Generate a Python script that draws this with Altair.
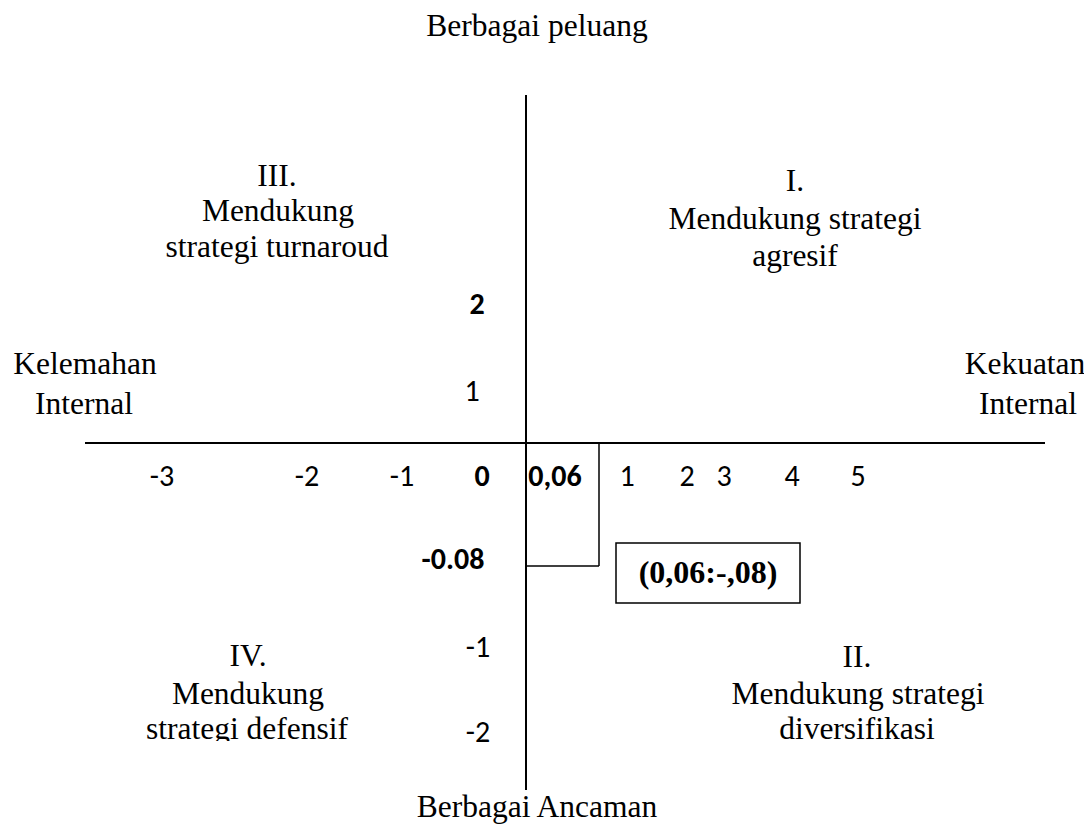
import altair as alt
import pandas as pd

# ---- values ----
# plotted point (IFE score ; EFE score)
point_label = "(0,06:-,08)"

# horizontal axis labels (irregularly spaced, as drawn)
x_tick_labels = ["-3", "-2", "-1", "0", "0,06", "1", "2", "3", "4", "5"]
x_tick_bold = [False, False, False, True, True, False, False, False, False, False]
x_tick_pos = [-364, -219, -124, -44, 29, 101, 161, 198, 266, 332]

# vertical axis labels
y_tick_labels = ["2", "1", "-0.08", "-1", "-2"]
y_tick_bold = [True, False, True, False, False]
y_tick_pos = [138, 51, -117, -205, -290]
y_tick_x = [-49, -54, -73, -48, -48]

# quadrant / axis captions
caption_lines = [
    "Berbagai peluang", "Berbagai Ancaman",
    "Kelemahan", "Internal", "Kekuatan", "Internal",
    "III.", "Mendukung", "strategi turnaroud",
    "I.", "Mendukung strategi", "agresif",
    "II.", "Mendukung strategi", "diversifikasi",
    "IV.", "Mendukung", "strategi defensif",
]
caption_x = [11, 11, -441, -442, 499, 502,
             -249, -248, -249, 269, 269, 269,
             331, 332, 331, -278, -278, -279]
caption_y = [416, -365, 78, 38, 78, 38,
             266, 231, 195, 261, 223, 186,
             -215, -252, -287, -214, -252, -287]

# axis segments and marker (x, y, x2, y2)
axis_seg = pd.DataFrame({
    "x": [0, -441], "y": [348, 0], "x2": [0, 519], "y2": [-347, 0]
})
marker_seg = pd.DataFrame({
    "x": [73, 0], "y": [0, -123], "x2": [73, 73], "y2": [-123, -123]
})
box = pd.DataFrame({"x": [90], "x2": [274], "y": [-100], "y2": [-160],
                    "tx": [182], "ty": [-130], "label": [point_label]})
# the bottom of the quadrant IV caption is cut off in the original
mask = pd.DataFrame({"x": [-400], "x2": [-160], "y": [-298], "y2": [-312]})

W, H = 1076, 818
xs = alt.Scale(domain=[-518, 558], nice=False, zero=False)
ys = alt.Scale(domain=[-383, 435], nice=False, zero=False)
X = lambda f: alt.X(f, scale=xs, axis=None)
Y = lambda f: alt.Y(f, scale=ys, axis=None)

SERIF = "Liberation Serif, Times New Roman, serif"
SANS = "Carlito, Lato, sans-serif"

axes = alt.Chart(axis_seg).mark_rule(color="black", strokeWidth=2).encode(
    x=X("x:Q"), y=Y("y:Q"), x2="x2:Q", y2="y2:Q")
marker = alt.Chart(marker_seg).mark_rule(color="black", strokeWidth=1.5).encode(
    x=X("x:Q"), y=Y("y:Q"), x2="x2:Q", y2="y2:Q")
boxrect = alt.Chart(box).mark_rect(fill="white", stroke="black", strokeWidth=1.5).encode(
    x=X("x:Q"), y=Y("y:Q"), x2="x2:Q", y2="y2:Q")
boxtext = alt.Chart(box).mark_text(font=SERIF, fontSize=32, fontWeight="bold",
                                   align="center", baseline="middle", color="black").encode(
    x=X("tx:Q"), y=Y("ty:Q"), text="label:N")

cap_df = pd.DataFrame({"t": caption_lines, "x": caption_x, "y": caption_y})
captions = alt.Chart(cap_df).mark_text(font=SERIF, fontSize=31.5, align="center",
                                       baseline="middle", color="black").encode(
    x=X("x:Q"), y=Y("y:Q"), text="t:N")
maskrect = alt.Chart(mask).mark_rect(fill="white").encode(
    x=X("x:Q"), y=Y("y:Q"), x2="x2:Q", y2="y2:Q")

tick_df = pd.DataFrame({
    "t": x_tick_labels + y_tick_labels,
    "x": x_tick_pos + y_tick_x,
    "y": [-34] * len(x_tick_labels) + y_tick_pos,
    "b": x_tick_bold + y_tick_bold,
})
ticks_reg = alt.Chart(tick_df[~tick_df.b]).mark_text(
    font=SANS, fontSize=30, align="center", baseline="middle", color="black").encode(
    x=X("x:Q"), y=Y("y:Q"), text="t:N")
ticks_bold = alt.Chart(tick_df[tick_df.b]).mark_text(
    font=SANS, fontSize=30, fontWeight="bold", align="center", baseline="middle",
    color="black").encode(x=X("x:Q"), y=Y("y:Q"), text="t:N")

chart = alt.layer(axes, marker, boxrect, boxtext, captions, maskrect,
                  ticks_reg, ticks_bold).properties(
    width=W, height=H, autosize="none", padding=0, background="white"
).configure_view(strokeWidth=0)

chart.save("out.html", embed_options={"renderer": "svg", "actions": False})
